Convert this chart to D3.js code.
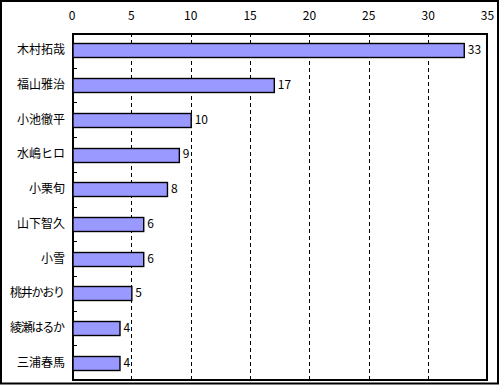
<!DOCTYPE html>
<html>
<head>
<meta charset="utf-8">
<script src="https://cdn.jsdelivr.net/npm/d3@7"></script>
<style>
  body { margin: 0; background: #fff; }
  text { font-family: "Noto Sans CJK JP", "Noto Sans", sans-serif; font-size: 12px; fill: #000; }
</style>
</head>
<body>
<div id="chart"></div>
<script>
const names = ["木村拓哉", "福山雅治", "小池徹平", "水嶋ヒロ", "小栗旬", "山下智久", "小雪", "桃井かおり", "綾瀬はるか", "三浦春馬"];
const votes = [33, 17, 10, 9, 8, 6, 6, 5, 4, 4];
const xTicks = [0, 5, 10, 15, 20, 25, 30, 35];

const width = 500, height = 385;
const plotL = 72, plotR = 487.5, plotT = 33, plotB = 380;

const svg = d3.select("#chart").append("svg")
  .attr("width", width).attr("height", height);

// outer frame
svg.append("rect")
  .attr("x", 1).attr("y", 1)
  .attr("width", width - 3).attr("height", height - 2.5)
  .attr("fill", "#fff").attr("stroke", "#000").attr("stroke-width", 2);

const x = d3.scaleLinear().domain([0, 35]).range([plotL, plotR]);
const y = d3.scaleBand().domain(names).range([plotT, plotB]).paddingInner(0.6).paddingOuter(0.3);
const band = d3.scaleBand().domain(names).range([plotT, plotB]);

// dashed grid
svg.append("g").selectAll("line")
  .data(xTicks.filter(t => t > 0 && t < 35))
  .enter().append("line")
  .attr("x1", d => Math.round(x(d)) + 0.5).attr("x2", d => Math.round(x(d)) + 0.5)
  .attr("y1", plotT).attr("y2", plotB)
  .attr("stroke", "#000").attr("stroke-dasharray", "4,3");

// plot frame
svg.append("rect")
  .attr("x", plotL + 1).attr("y", plotT + 1)
  .attr("width", plotR - plotL - 1.5).attr("height", plotB - plotT - 1)
  .attr("fill", "none").attr("stroke", "#000").attr("stroke-width", 2);

// top axis labels
svg.append("g").selectAll("text")
  .data(xTicks)
  .enter().append("text")
  .attr("x", d => x(d)).attr("y", 20)
  .attr("text-anchor", "middle")
  .text(d => d);

// category ticks (inward)
svg.append("g").selectAll("line")
  .data(names.slice(1))
  .enter().append("line")
  .attr("x1", plotL).attr("x2", plotL + 5)
  .attr("y1", d => Math.round(band(d)) + 0.5).attr("y2", d => Math.round(band(d)) + 0.5)
  .attr("stroke", "#000");

// bars
svg.append("g").selectAll("rect")
  .data(names)
  .enter().append("rect")
  .attr("x", plotL + 1)
  .attr("y", d => Math.round(y(d)) + 0.5)
  .attr("width", (d, i) => x(votes[i]) - plotL - 0.5)
  .attr("height", Math.round(y.bandwidth()))
  .attr("fill", "#9999ff").attr("stroke", "#000").attr("stroke-width", 1.4);

// value labels
svg.append("g").selectAll("text")
  .data(names)
  .enter().append("text")
  .attr("x", (d, i) => x(votes[i]) + 4)
  .attr("y", d => y(d) + y.bandwidth() / 2 + 4)
  .text((d, i) => votes[i]);

// category labels
svg.append("g").selectAll("text")
  .data(names)
  .enter().append("text")
  .attr("x", 65)
  .attr("y", d => y(d) + y.bandwidth() / 2 + 4)
  .attr("text-anchor", "end")
  .attr("textLength", d => d.length > 4 ? 11 * d.length : null)
  .text(d => d);
</script>
</body>
</html>
